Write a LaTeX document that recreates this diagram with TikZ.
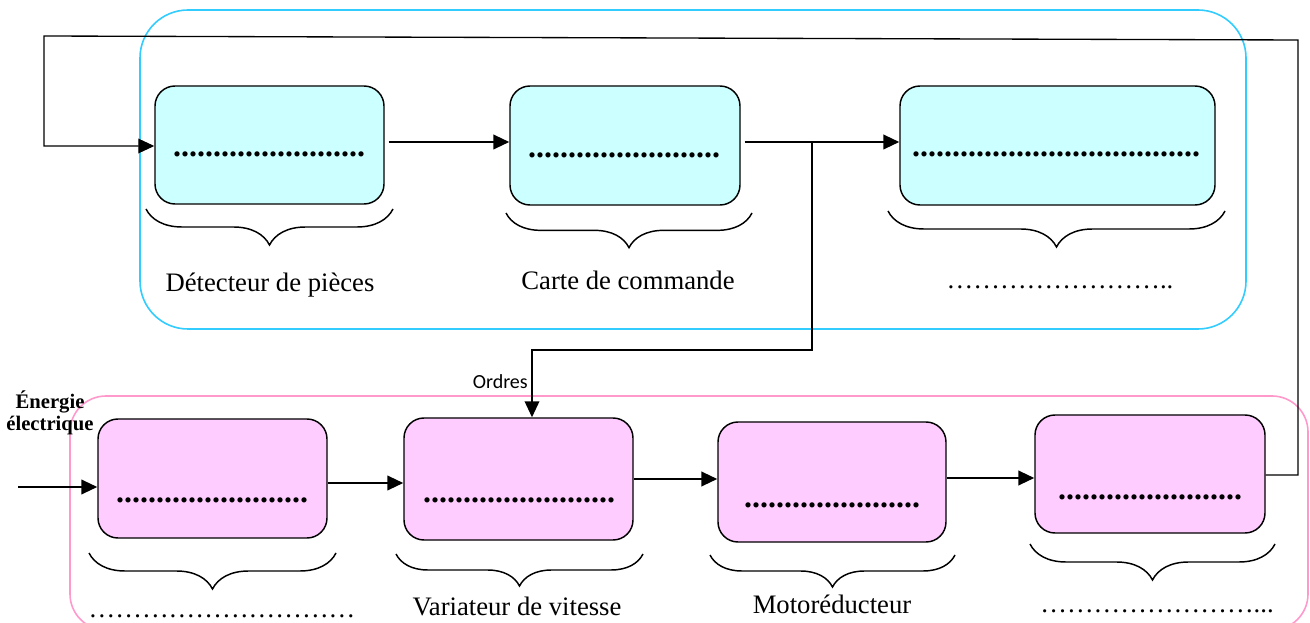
\documentclass[tikz,border=0pt]{standalone}
\usepackage{fontspec}
\setmainfont{Liberation Serif}
\newfontfamily\calib{Carlito}
\usetikzlibrary{arrows.meta,decorations.pathreplacing,calc}
\definecolor{cyanfill}{HTML}{CCFFFF}
\definecolor{pinkfill}{HTML}{FFCCFF}
\definecolor{blueframe}{HTML}{33CCFF}
\definecolor{pinkframe}{HTML}{FF99CC}
\begin{document}
\begin{tikzpicture}[x=0.75pt,y=-0.75pt,
  boxbase/.style={draw, line width=1.1pt, rounded corners=15pt, inner sep=0pt},
  boxc/.style={boxbase, fill=cyanfill},
  boxp/.style={boxbase, fill=pinkfill},
  dotsb/.style={font=\fontsize{24}{24}\selectfont\bfseries, inner sep=0pt, anchor=base},
  dotsl/.style={font=\fontsize{20}{20}\selectfont, inner sep=0pt, anchor=base},
  lbl/.style={font=\fontsize{20}{24}\selectfont, inner sep=0pt},
  tip/.style={-{Triangle[length=12pt,width=11pt]}},
  arr/.style={line width=1.5pt, tip},
  fbl/.style={line width=1pt},
  brc/.style={line width=1.1pt, decorate, decoration={brace, mirror, amplitude=#1}},
  frm/.style={line width=1.2pt},
]
\useasboundingbox (0,0) rectangle (1310,623);
\clip (0,0) rectangle (1310,623);

% frames
\draw[frm, blueframe, rounded corners=36pt] (140,10) rectangle (1246,329);
\draw[frm, pinkframe, rounded corners=27pt] (70,396) rectangle (1308,630);

% top boxes
\node[boxc, minimum width={229*0.75pt}, minimum height={118*0.75pt}] (b1) at (269.5,145) {};
\node[boxc, minimum width={230*0.75pt}, minimum height={119*0.75pt}] (b2) at (625,145.5) {};
\node[boxc, minimum width={315*0.75pt}, minimum height={119*0.75pt}] (b3) at (1057.5,145.5) {};
% bottom boxes
\node[boxp, minimum width={229*0.75pt}, minimum height={119*0.75pt}] (p1) at (212.5,478.5) {};
\node[boxp, minimum width={229*0.75pt}, minimum height={122*0.75pt}] (p2) at (518.5,479) {};
\node[boxp, minimum width={228*0.75pt}, minimum height={120*0.75pt}] (p3) at (832,482) {};
\node[boxp, minimum width={230*0.75pt}, minimum height={118*0.75pt}] (p4) at (1150,474) {};

% dots in boxes
\node[dotsb] (d1) at (269,157) {........................};
\node[dotsb] (d2) at (624,158) {........................};
\node[dotsb] (d3) at (1056,157) {....................................};
\node[dotsb] (dp1) at (212,502) {........................};
\node[dotsb] (dp2) at (519,502) {........................};
\node[dotsb] (dp3) at (832,507) {......................};
\node[dotsb] (dp4) at (1150,499) {.......................};

% braces
\draw[brc=27pt] (146,209) -- (393,209);
\draw[brc=26pt] (506,213) -- (752,213);
\draw[brc=27pt] (888,211) -- (1225,211);
\draw[brc=27pt] (89,553) -- (336,553);
\draw[brc=24pt] (396,554) -- (643,554);
\draw[brc=24pt] (710,555) -- (955,555);
\draw[brc=27pt] (1030,544) -- (1275,544);

% labels
\node[lbl] (l1) at (270,285) {Détecteur de pièces};
\node[lbl] (l2) at (628,280) {Carte de commande};
\node[dotsl] (l3) at (1060,289) {……………………..};
\node[dotsl] (l4) at (222,617) {…………………………};
\node[lbl] (l5) at (517,606) {Variateur de vitesse};
\node[lbl] (l6) at (832,604) {Motoréducteur};
\node[dotsl] (l7) at (1157,612) {……………………...};
\node[font=\fontsize{15.5}{16.5}\selectfont\bfseries, align=center, inner sep=0pt] (en) at (50,413) {Énergie\\électrique};
\node[font=\calib\fontsize{15}{15}\selectfont, inner sep=0pt, anchor=east] (ord) at (528,382) {Ordres};

% connectors
\coordinate (yA) at (0,142);
\draw[arr, shorten <=3pt] (b1.east |- yA) -- (b2.west |- yA);
\draw[arr, shorten <=3pt] (b2.east |- yA) -- (b3.west |- yA);
\coordinate (br) at (812,142);
\coordinate (br2) at (812,350);
\coordinate (br3) at (532,350);
\draw[line width=1.2pt, tip] (br) -- (br2) -- (br3) -- (br3 |- p2.north);

\coordinate (in) at (18,487);
\draw[arr] (in) -- (p1.west |- in);
\coordinate (yB) at (0,483);
\draw[arr] (p1.east |- yB) -- (p2.west |- yB);
\coordinate (yC) at (0,479);
\draw[arr] (p2.east |- yC) -- (p3.west |- yC);
\coordinate (yD) at (0,478);
\draw[arr] (p3.east |- yD) -- (p4.west |- yD);

\coordinate (f1) at (1298,475);
\coordinate (f2) at (1298,40);
\coordinate (f3) at (44,36);
\coordinate (f4) at (44,146);
\draw[fbl, tip] (p4.east |- f1) -- (f1) -- (f2) -- (f3) -- (f4) -- (b1.west |- f4);
\end{tikzpicture}
\end{document}
